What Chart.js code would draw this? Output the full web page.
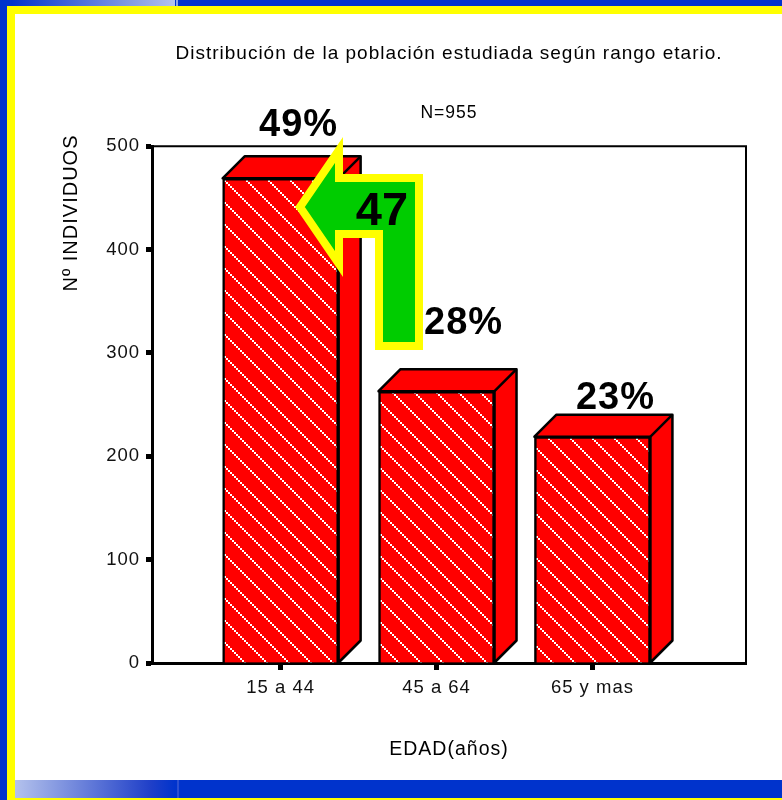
<!DOCTYPE html>
<html>
<head>
<meta charset="utf-8">
<style>
html, body { margin: 0; padding: 0; background: #0033cc; }
#page { position: relative; width: 782px; height: 800px; overflow: hidden; background: #0033cc; }
.fade { position: absolute; }
#fadeTop { left: 12px; top: 0; width: 163px; height: 6px; background: linear-gradient(to right, #0033cc, #b4c2ec); }
#fadeBottom { left: 15px; top: 780px; width: 160px; height: 18px; background: linear-gradient(to right, #b4c2ec, #1f3fc8 85%, #0033cc); }
#sliverTop { left: 176px; top: 0; width: 2px; height: 6px; background: #8fa3e6; }
#sliverBottom { left: 177px; top: 780px; width: 2px; height: 18px; background: #2a4fd2; }
#frame { position: absolute; left: 7px; top: 6px; right: 0; height: 794px; background: #ffff00; }
#sheet { position: absolute; left: 15px; top: 14px; right: 0; height: 766px; background: #fff; }
#bar { position: absolute; left: 15px; top: 780px; right: 0; height: 18px; background: #0033cc; }
canvas { position: absolute; left: 0; top: 0; }
</style>
</head>
<body>
<div id="page">
  <div id="frame"></div>
  <div id="sheet"></div>
  <div id="bar"></div>
  <div class="fade" id="fadeTop"></div>
  <div class="fade" id="sliverTop"></div>
  <div class="fade" id="fadeBottom"></div>
  <div class="fade" id="sliverBottom"></div>
  <canvas id="chart" width="782" height="800"></canvas>
</div>
<script src="https://cdn.jsdelivr.net/npm/chart.js@4/dist/chart.umd.min.js"></script>
<script>
// Chart data
let ageGroups = ['15 a 44', '45 a 64', '65 y mas'];
let individuals = [469, 263, 219];
let shares = ['49%', '28%', '23%'];
let yTicks = [0, 100, 200, 300, 400, 500];

let fontName = '"Liberation Sans", Arial, sans-serif';
let depth = 22;

// red fill with white dotted diagonals
function hatchPattern() {
    let tile = document.createElement('canvas');
    tile.width = 22;
    tile.height = 22;
    let t = tile.getContext('2d');
    t.fillStyle = '#ff0000';
    t.fillRect(0, 0, 22, 22);
    t.fillStyle = '#ffffff';
    for (let i = 0; i < 22; i += 2) {
        t.fillRect(i, i, 2, 2);
    }
    return document.getElementById('chart').getContext('2d').createPattern(tile, 'repeat');
}

// side and top faces of the bars
const boxFaces = {
    id: 'boxFaces',
    beforeDraw(chart) {
        chart.ctx.letterSpacing = '1px';
    },
    beforeDatasetsDraw(chart) {
        let ctx = chart.ctx;
        ctx.save();
        ctx.fillStyle = '#ff0000';
        ctx.strokeStyle = '#000';
        ctx.lineWidth = 2.5;
        ctx.lineJoin = 'round';
        chart.getDatasetMeta(0).data.forEach(function (bar) {
            let left = bar.x - bar.width / 2, right = bar.x + bar.width / 2;
            ctx.beginPath();
            ctx.moveTo(left, bar.y);
            ctx.lineTo(left + depth, bar.y - depth);
            ctx.lineTo(right + depth, bar.y - depth);
            ctx.lineTo(right + depth, bar.base - depth);
            ctx.lineTo(right, bar.base);
            ctx.lineTo(right, bar.y);
            ctx.closePath();
            ctx.fill();
            ctx.stroke();
            ctx.beginPath();
            ctx.moveTo(right, bar.y);
            ctx.lineTo(right + depth, bar.y - depth);
            ctx.stroke();
        });
        ctx.restore();
    }
};

// frame, percentages, axis title and the green arrow
const callouts = {
    id: 'callouts',
    afterDraw(chart) {
        let ctx = chart.ctx, area = chart.chartArea;
        ctx.save();
        ctx.strokeStyle = '#000';
        ctx.lineWidth = 2;
        ctx.beginPath();
        ctx.moveTo(area.left, area.top);
        ctx.lineTo(area.right, area.top);
        ctx.lineTo(area.right, area.bottom);
        ctx.stroke();

        ctx.fillStyle = '#000';
        ctx.font = 'bold 38px ' + fontName;
        ctx.textAlign = 'center';
        ctx.textBaseline = 'alphabetic';
        let offsets = [[18, -42], [27, -57], [23, -28]];
        chart.getDatasetMeta(0).data.forEach(function (bar, i) {
            ctx.fillText(shares[i], bar.x + offsets[i][0], bar.y + offsets[i][1]);
        });

        ctx.beginPath();
        [[300, 207], [339, 150], [339, 178], [419, 178], [419, 346], [379, 346], [379, 234], [339, 234], [339, 264]].forEach(function (p, i) {
            if (i == 0) ctx.moveTo(p[0], p[1]); else ctx.lineTo(p[0], p[1]);
        });
        ctx.closePath();
        ctx.fillStyle = '#00cc00';
        ctx.fill();
        ctx.strokeStyle = '#ffff00';
        ctx.lineWidth = 8;
        ctx.miterLimit = 10;
        ctx.stroke();
        ctx.fillStyle = '#000';
        ctx.font = 'bold 47px ' + fontName;
        ctx.letterSpacing = '0px';
        ctx.fillText('47', 382, 225);

        ctx.letterSpacing = '1px';
        ctx.font = '20px ' + fontName;
        ctx.translate(77, 213);
        ctx.rotate(-Math.PI / 2);
        ctx.fillText('Nº INDIVIDUOS', 0, 0);
        ctx.restore();
    }
};

let chart = new Chart(document.getElementById('chart').getContext('2d'), {
    type: 'bar',
    data: {
        datasets: [{
            data: individuals.map(function (v, i) { return { x: i, y: v }; }),
            backgroundColor: hatchPattern(),
            borderColor: '#000',
            borderWidth: 2.5,
            barThickness: 116
        }]
    },
    options: {
        responsive: false,
        animation: false,
        layout: {
            padding: { left: 0, right: 36, top: 42, bottom: 35 }
        },
        scales: {
            x: {
                type: 'linear',
                offset: false,
                min: -0.825,
                max: 2.985,
                afterBuildTicks(axis) {
                    axis.ticks = ageGroups.map(function (g, i) { return { value: i }; });
                },
                afterFit(axis) { axis.height = 102; },
                grid: { offset: false, drawOnChartArea: false, tickLength: 7, tickWidth: 5, tickColor: '#000' },
                border: { color: '#000', width: 3 },
                ticks: {
                    color: '#111',
                    font: { family: fontName, size: 18.5 },
                    padding: 7,
                    maxRotation: 0,
                    callback: function (value) { return ageGroups[value]; }
                },
                title: {
                    display: true,
                    text: 'EDAD(años)',
                    color: '#000',
                    font: { family: fontName, size: 19.5 }
                }
            },
            y: {
                min: 0,
                max: 500,
                afterBuildTicks(axis) {
                    axis.ticks = yTicks.map(function (v) { return { value: v }; });
                },
                afterFit(axis) { axis.width = 152; },
                grid: { drawOnChartArea: false, tickLength: 6, tickWidth: 5, tickColor: '#000' },
                border: { color: '#000', width: 3 },
                ticks: {
                    color: '#111',
                    font: { family: fontName, size: 18.5 },
                    padding: 6
                }
            }
        },
        plugins: {
            legend: { display: false },
            tooltip: { enabled: false },
            title: {
                display: true,
                fullSize: false,
                text: 'Distribución de la población estudiada según rango etario.',
                color: '#000',
                font: { family: fontName, size: 19, weight: 'normal' },
                padding: { top: 0, bottom: 38 }
            },
            subtitle: {
                display: true,
                fullSize: false,
                text: 'N=955',
                color: '#000',
                font: { family: fontName, size: 17.5 },
                padding: { top: 0, bottom: 22.5 }
            }
        }
    },
    plugins: [boxFaces, callouts]
});
</script>
</body>
</html>
